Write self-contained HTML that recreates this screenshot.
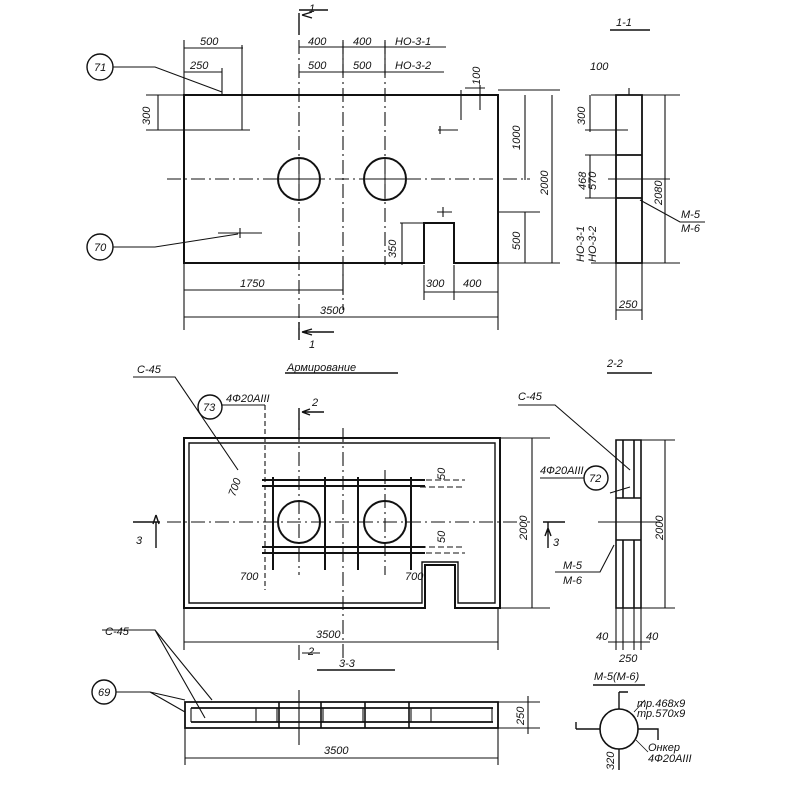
<!DOCTYPE html>
<html><head><meta charset="utf-8"><style>
html,body{margin:0;padding:0;background:#fff}
svg{display:block}
text{font-family:"Liberation Sans",sans-serif;font-style:italic;fill:#111;font-size:11px}
</style></head><body>
<svg width="800" height="800" viewBox="0 0 800 800" xmlns="http://www.w3.org/2000/svg">
<g stroke="#111" stroke-width="1.4" fill="none">
<!-- TOP PLAN -->
<path d="M184 95 H498 V263 H454 V223 H424 V263 H184 Z" stroke-width="2"/>
<circle cx="299" cy="179" r="21" stroke-width="2"/>
<circle cx="385" cy="179" r="21" stroke-width="2"/>
<path d="M167 179 H530" stroke-dasharray="14 4 2 4" stroke-width="1.1"/>
<path d="M299 40 V330 M343 40 V310 M385 40 V265" stroke-dasharray="14 4 2 4" stroke-width="1.1"/>
<path d="M278 179 H320 M299 158 V200 M364 179 H406 M385 158 V200" stroke-width="1"/>
<path d="M299 13 V35 M299 10 H328 M302 15 L312 12 M302 15 L312 18" />
<path d="M299 322 V340 M302 332 H334 M302 332 L312 329 M302 332 L312 335"/>
<path d="M184 48 H243 M242 45 V130 M184 40 V330 M184 72 H222 M222 68 V95" stroke-width="1.1"/>
<path d="M299 47 H446 M299 72 H444 M343 42 V75 M385 42 V75" stroke-width="1.1"/>
<path d="M146 130 H250 M158 95 V130 M146 95 H184" stroke-width="1.1"/>
<path d="M461 90 V120 M480 85 V110 M465 88 H485 M498 90 H560" stroke-width="1.1"/>
<path d="M525 95 V180 M552 95 V263 M498 212 H540 M525 212 V263 M498 263 H560" stroke-width="1.1"/>
<path d="M438 130 H458 M440 134 V126 M437 212 H452 M443 207 V217 M218 233 H262 M240 228 V238" stroke-width="1.1"/>
<path d="M400 223 H424 M402 223 V265" stroke-width="1.1"/>
<path d="M184 290 H343 M343 270 V295 M424 292 H498 M424 265 V300 M454 265 V300 M498 263 V330 M184 317 H498" stroke-width="1.1"/>
<circle cx="100" cy="67" r="13"/>
<circle cx="100" cy="247" r="13"/>
<path d="M113 67 H155 L222 92 M113 247 H155 L238 234" stroke-width="1.1"/>
<!-- SECTION 1-1 -->
<path d="M616 95 H642 V263 H616 Z M616 155 H642 M616 198 H642" stroke-width="1.8"/>
<path d="M591 95 H680 M591 263 H680 M665 95 V263 M590 95 V132 M585 130 H628 M590 155 V198 M585 155 H616 M585 198 H616 M608 179 H670" stroke-width="1.1"/>
<path d="M629 88 V95 M616 263 V320 M642 263 V320 M616 310 H642" stroke-width="1.1"/>
<path d="M640 200 L680 222 H705" stroke-width="1.1"/>
<path d="M610 30 H650" stroke-width="1.4"/>
<!-- ARMIROVANIE PLAN -->
<path d="M184 438 H500 V608 H455 V565 H425 V608 H184 Z" stroke-width="2"/>
<path d="M189 443 H495 V603 H458 V562 H422 V603 H189 Z" stroke-width="1.4"/>
<circle cx="299" cy="522" r="21" stroke-width="2"/>
<circle cx="385" cy="522" r="21" stroke-width="2"/>
<path d="M262 480 H425 M262 486 H425 M262 547 H425 M262 553 H425" stroke-width="2"/>
<path d="M273 477 V570 M325 477 V570 M358 477 V570 M411 477 V570" stroke-width="2"/>
<path d="M273 480 H465 M273 553 H465 M420 487 H465 M420 547 H465" stroke-dasharray="6 3" stroke-width="1.1"/>
<path d="M167 522 H530" stroke-dasharray="14 4 2 4" stroke-width="1.1"/>
<path d="M299 428 V575 M343 428 V660 M385 470 V575" stroke-dasharray="14 4 2 4" stroke-width="1.1"/>
<path d="M299 408 V430 M302 412 H324 M302 412 L310 409 M302 412 L310 415" />
<path d="M265 405 V590" stroke-dasharray="5 3" stroke-width="1.1"/>
<path d="M133 522 H160 M156 522 V548 M156 515 L153 524 M156 515 L159 524 M543 522 H565 M548 522 V548 M548 528 L545 536 M548 528 L551 536" />
<path d="M498 438 H550 M498 608 H550 M532 438 V608" stroke-width="1.1"/>
<path d="M184 608 V650 M498 608 V650 M184 642 H498" stroke-width="1.1"/>
<path d="M299 645 V660 M302 653 H320" stroke-width="1.1"/>
<path d="M133 377 H175 L238 470" stroke-width="1.1"/>
<circle cx="210" cy="407" r="12"/>
<path d="M222 405 H265" stroke-width="1.1"/>
<path d="M285 373 H398" stroke-width="1.4"/>
<!-- SECTION 2-2 -->
<path d="M616 440 H641 V608 H616 Z M623 440 V498 M634 440 V498 M623 540 V608 M634 540 V608 M616 498 H641 M616 540 H641" stroke-width="1.6"/>
<path d="M641 440 H675 M641 608 H675 M665 440 V608 M598 522 H660" stroke-width="1.1"/>
<path d="M616 608 V650 M623 608 V650 M634 608 V650 M641 608 V650 M608 642 H650" stroke-width="1.1"/>
<path d="M518 405 H555 L630 470 M610 493 L630 487" stroke-width="1.1"/>
<path d="M540 478 H584" stroke-width="1.1"/>
<circle cx="596" cy="478" r="12"/>
<path d="M555 572 H600 L614 545" stroke-width="1.1"/>
<path d="M607 373 H652" stroke-width="1.4"/>
<!-- SECTION 3-3 -->
<path d="M185 702 H498 V728 H185 Z M191 708 H493 M191 722 H493" stroke-width="1.8"/>
<path d="M279 702 V728 M321 702 V728 M365 702 V728 M409 702 V728" stroke-width="1.6"/>
<path d="M191 708 V722 M256 708 V722 M277 708 V722 M323 708 V722 M363 708 V722 M411 708 V722 M431 708 V722 M492 708 V722" stroke-width="1.1"/>
<path d="M498 702 H540 M498 728 H540 M528 696 V734" stroke-width="1.1"/>
<path d="M185 728 V765 M498 728 V765 M185 758 H498 M299 690 V745" stroke-width="1.1"/>
<circle cx="104" cy="692" r="12"/>
<path d="M116 692 H150 L185 700 M150 692 L185 712 M102 630 H155 L205 718 M155 630 L212 700" stroke-width="1.1"/>
<path d="M317 670 H395" stroke-width="1.4"/>
<!-- M-5 detail -->
<path d="M593 685 H645" stroke-width="1.4"/>
<ellipse cx="619" cy="729" rx="19" ry="20" stroke-width="1.6"/>
<path d="M619 692 H628 M619 692 V709 M576 729 H600 M576 729 V722 M638 729 H658 V740 M619 749 V770" stroke-width="1.4"/>
<path d="M634 712 L645 700 M636 740 L648 752" stroke-width="0.8"/>
</g>
<g>
<text x="200" y="45">500</text>
<text x="190" y="69" font-size="10">250</text>
<text x="308" y="45">400</text>
<text x="353" y="45">400</text>
<text x="395" y="45">НО-3-1</text>
<text x="308" y="69">500</text>
<text x="353" y="69">500</text>
<text x="395" y="69">НО-3-2</text>
<text x="480" y="85" transform="rotate(-90 480 85)" font-size="10">100</text>
<text x="150" y="125" transform="rotate(-90 150 125)">300</text>
<text x="520" y="150" transform="rotate(-90 520 150)">1000</text>
<text x="548" y="195" transform="rotate(-90 548 195)">2000</text>
<text x="520" y="250" transform="rotate(-90 520 250)">500</text>
<text x="396" y="258" transform="rotate(-90 396 258)">350</text>
<text x="240" y="287">1750</text>
<text x="426" y="287">300</text>
<text x="463" y="287">400</text>
<text x="320" y="314">3500</text>
<text x="309" y="12" font-size="13">1</text>
<text x="309" y="348" font-size="13">1</text>
<text x="94" y="71" font-size="11">71</text>
<text x="94" y="251" font-size="11">70</text>
<text x="616" y="26" font-size="15">1-1</text>
<text x="590" y="70" font-size="9">100</text>
<text x="585" y="125" transform="rotate(-90 585 125)">300</text>
<text x="586" y="190" transform="rotate(-90 586 190)" font-size="10">468</text>
<text x="596" y="190" transform="rotate(-90 596 190)" font-size="10">570</text>
<text x="584" y="262" transform="rotate(-90 584 262)" font-size="10">НО-3-1</text>
<text x="596" y="262" transform="rotate(-90 596 262)" font-size="10">НО-3-2</text>
<text x="662" y="205" transform="rotate(-90 662 205)">2080</text>
<text x="681" y="218">М-5</text>
<text x="681" y="232">М-6</text>
<text x="619" y="308">250</text>
<text x="287" y="371">Армирование</text>
<text x="137" y="373" font-size="13">С-45</text>
<text x="226" y="402" font-size="10">4Ф20АIII</text>
<text x="203" y="411" font-size="10">73</text>
<text x="312" y="406" font-size="13">2</text>
<text x="235" y="497" transform="rotate(-70 235 497)" font-size="8">700</text>
<text x="240" y="580" font-size="8">700</text>
<text x="405" y="580" font-size="8">700</text>
<text x="445" y="480" transform="rotate(-90 445 480)" font-size="10">50</text>
<text x="445" y="543" transform="rotate(-90 445 543)" font-size="10">50</text>
<text x="136" y="544" font-size="14">3</text>
<text x="553" y="546" font-size="12">3</text>
<text x="527" y="540" transform="rotate(-90 527 540)">2000</text>
<text x="316" y="638">3500</text>
<text x="308" y="655" font-size="11">2</text>
<text x="607" y="367" font-size="15">2-2</text>
<text x="518" y="400" font-size="13">С-45</text>
<text x="540" y="474" font-size="10">4Ф20АIII</text>
<text x="589" y="482" font-size="10">72</text>
<text x="563" y="569">М-5</text>
<text x="563" y="584">М-6</text>
<text x="663" y="540" transform="rotate(-90 663 540)">2000</text>
<text x="596" y="640">40</text>
<text x="646" y="640">40</text>
<text x="619" y="662" font-size="10">250</text>
<text x="594" y="680" font-size="12">М-5(М-6)</text>
<text x="339" y="667" font-size="15">3-3</text>
<text x="105" y="635" font-size="13">С-45</text>
<text x="98" y="696" font-size="10">69</text>
<text x="524" y="725" transform="rotate(-90 524 725)" font-size="11">250</text>
<text x="324" y="754">3500</text>
<text x="637" y="707" font-size="8">тр.468х9</text>
<text x="637" y="717" font-size="8">тр.570х9</text>
<text x="648" y="751" font-size="8">Онкер</text>
<text x="648" y="762" font-size="8">4Ф20АIII</text>
<text x="614" y="770" transform="rotate(-90 614 770)" font-size="8">320</text>
</g>
</svg>
</body></html>
